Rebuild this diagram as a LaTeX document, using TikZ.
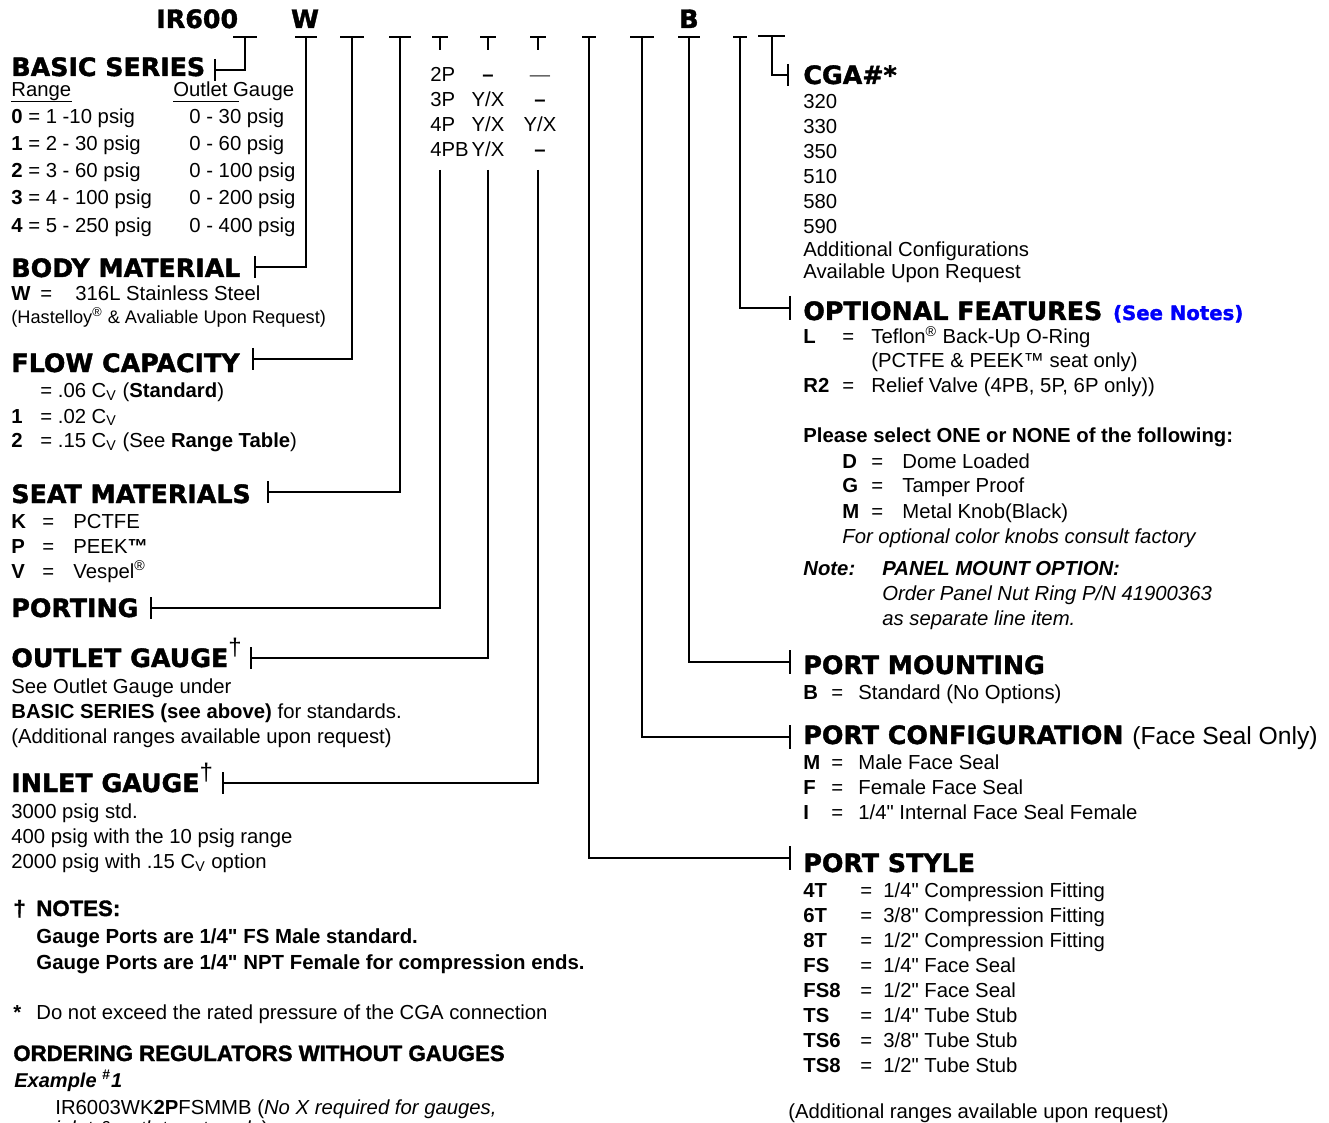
\documentclass[tikz,border=0pt]{standalone}
\usepackage{fontspec}
\setmainfont{Liberation Sans}[Ligatures=TeXOff]
\newfontfamily\headfont{DejaVu Sans Bold}[FakeBold=1.5]
\newfontfamily\titlefont{Liberation Sans Bold}[FakeBold=1.5, Ligatures=TeXOff]
\usepackage{xcolor}
\usepackage{tikz}
\usetikzlibrary{positioning}
\definecolor{seeblue}{RGB}{0,0,250}
\tikzset{
  head-text/.style={anchor=base west, inner sep=0pt,
    font=\headfont\fontsize{12.65}{14}\selectfont},
  blue-text/.style={anchor=base west, inner sep=0pt, text=seeblue,
    font=\headfont\fontsize{9.85}{12}\selectfont},
  body-text/.style={anchor=base west, inner sep=0pt,
    font=\fontsize{10.15}{12}\selectfont},
  code-text/.style={anchor=base west, inner sep=0pt,
    font=\fontsize{10.15}{12}\selectfont\bfseries},
  table-text/.style={anchor=base, inner sep=0pt,
    font=\fontsize{10.15}{12}\selectfont},
  small-text/.style={anchor=base west, inner sep=0pt,
    font=\fontsize{9.1}{11}\selectfont},
  note-text/.style={anchor=base west, inner sep=0pt,
    font=\fontsize{10.2}{12}\selectfont\bfseries},
  title-text/.style={anchor=base west, inner sep=0pt,
    font=\titlefont\fontsize{11.1}{13}\selectfont},
  link/.style={line width=1pt},
  rule/.style={line width=0.5pt}
}
\newcommand{\gaugedag}{{\normalfont\fontsize{12}{12}\selectfont\raisebox{6pt}{†}}}
\begin{document}
\begin{tikzpicture}[x=0.5pt, y=-0.5pt]
\useasboundingbox (0,0) rectangle (1329,1123);

% Code line
\node[head-text] (hIR) at (156,28) {IR600};
\node[head-text, anchor=base] (hW) at (305,28) {W};
\node[head-text, anchor=base] (hB) at (689,28) {B};

% Left column: basic series
\node[head-text] (hSeries) at (11,76) {BASIC SERIES};
\node[body-text] (tRange) at (11,97) {Range};
\node[body-text] (tOutGauge) at (173,97) {Outlet Gauge};
\draw[rule] ([yshift=-2.5pt]tRange.base west) -- ([yshift=-2.5pt]tRange.base east);
\draw[rule] ([yshift=-2.5pt]tOutGauge.base west) -- ++(66,0);
\node[body-text] (tRange0) at (11,124) {\textbf{0} = 1 -10 psig};
\node[body-text] (tRange1) at (11,151) {\textbf{1} = 2 - 30 psig};
\node[body-text] (tRange2) at (11,178) {\textbf{2} = 3 - 60 psig};
\node[body-text] (tRange3) at (11,205) {\textbf{3} = 4 - 100 psig};
\node[body-text] (tRange4) at (11,233) {\textbf{4} = 5 - 250 psig};
\node[body-text] (tGauge0) at (189,124) {0 - 30 psig};
\node[body-text] (tGauge1) at (189,151) {0 - 60 psig};
\node[body-text] (tGauge2) at (189,178) {0 - 100 psig};
\node[body-text] (tGauge3) at (189,205) {0 - 200 psig};
\node[body-text] (tGauge4) at (189,233) {0 - 400 psig};

% Body material
\node[head-text] (hBody) at (11,277) {BODY MATERIAL};
\node[code-text] (cW) at (11,301) {W};
\node[body-text] (eW) at (40,301) {=};
\node[body-text] (vW) at (75,301) {316L Stainless Steel};
\node[small-text] (tHast) at (11,324) {(Hastelloy\textsuperscript{®} \& Avaliable Upon Request)};

% Flow capacity
\node[head-text] (hFlow) at (11,372) {FLOW CAPACITY};
\node[body-text] (vFlow0) at (40,398) {= .06 C\textsubscript{V} (\textbf{Standard})};
\node[code-text] (cFlow1) at (11,423) {1};
\node[body-text] (vFlow1) at (40,423) {= .02 C\textsubscript{V}};
\node[code-text] (cFlow2) at (11,448) {2};
\node[body-text] (vFlow2) at (40,448) {= .15 C\textsubscript{V} (See \textbf{Range Table})};

% Seat materials
\node[head-text] (hSeat) at (11,503) {SEAT MATERIALS};
\node[code-text] (cK) at (11,528) {K};
\node[body-text] (eK) at (42,528) {=};
\node[body-text] (vK) at (73,528) {PCTFE};
\node[code-text] (cP) at (11,553) {P};
\node[body-text] (eP) at (42,553) {=};
\node[body-text] (vP) at (73,553) {PEEK\textbf{™}};
\node[code-text] (cV) at (11,578) {V};
\node[body-text] (eV) at (42,578) {=};
\node[body-text] (vV) at (73,578) {Vespel\textsuperscript{®}};

% Porting and gauges
\node[head-text] (hPort) at (11,617) {PORTING};
\node[head-text] (hOutlet) at (11,667) {OUTLET GAUGE\gaugedag};
\node[body-text] (tOut1) at (11,693) {See Outlet Gauge under};
\node[body-text] (tOut2) at (11,718) {\textbf{BASIC SERIES (see above)} for standards.};
\node[body-text] (tOut3) at (11,743) {(Additional ranges available upon request)};
\node[head-text] (hInlet) at (11,792) {INLET GAUGE\gaugedag};
\node[body-text] (tIn1) at (11,818) {3000 psig std.};
\node[body-text] (tIn2) at (11,843) {400 psig with the 10 psig range};
\node[body-text] (tIn3) at (11,868) {2000 psig with .15 C\textsubscript{V} option};

% Notes
\node[title-text] (tDagger) at (13,916) {†};
\node[title-text] (hNotes) at (36,916) {NOTES:};
\node[note-text] (tNote1) at (36,943) {Gauge Ports are 1/4" FS Male standard.};
\node[note-text] (tNote2) at (36,969) {Gauge Ports are 1/4" NPT Female for compression ends.};
\node[code-text] (tStar) at (13,1019) {*};
\node[body-text] (tStarNote) at (36,1019) {Do not exceed the rated pressure of the CGA connection};
\node[title-text] (hOrder) at (13,1061) {ORDERING REGULATORS WITHOUT GAUGES};
\node[note-text, font=\fontsize{10}{12}\selectfont\bfseries\itshape] (tExample) at (14,1087) {Example \textsuperscript{\#}1};
\node[body-text] (tExample1) at (55,1114) {IR6003WK\textbf{2P}FSMMB (\textit{No X required for gauges,}};
\node[body-text] (tExample2) at (55,1135) {\textit{inlet \& outlet ports only})};

% Port table
\node[body-text] (p2) at (430,82) {2P};
\node[body-text] (p3) at (430,107) {3P};
\node[body-text] (p4) at (430,132) {4P};
\node[body-text] (p4b) at (430,157) {4PB};
\node[table-text] (o2) at (488,82) {\textbf{–}};
\node[table-text] (o3) at (488,107) {Y/X};
\node[table-text] (o4) at (488,132) {Y/X};
\node[table-text] (o4b) at (488,157) {Y/X};
\node[table-text] (i2) at (540,82) {\textcolor{black!70}{—}};
\node[table-text] (i3) at (540,107) {\textbf{–}};
\node[table-text] (i4) at (540,132) {Y/X};
\node[table-text] (i4b) at (540,157) {\textbf{–}};

% Right column: CGA
\node[head-text] (hCga) at (803,84) {CGA\#*};
\node[body-text] (g320) at (803,109) {320};
\node[body-text] (g330) at (803,134) {330};
\node[body-text] (g350) at (803,159) {350};
\node[body-text] (g510) at (803,184) {510};
\node[body-text] (g580) at (803,209) {580};
\node[body-text] (g590) at (803,234) {590};
\node[body-text] (gAdd1) at (803,257) {Additional Configurations};
\node[body-text] (gAdd2) at (803,279) {Available Upon Request};

% Optional features
\node[head-text] (hOption) at (803,320) {OPTIONAL FEATURES};
\node[blue-text, base right=5pt of hOption] (tSee) {(See Notes)};
\node[code-text] (cL) at (803,344) {L};
\node[body-text] (eL) at (842,344) {=};
\node[body-text] (vL) at (871,344) {Teflon\textsuperscript{®} Back-Up O-Ring};
\node[body-text] (vL2) at (871,368) {(PCTFE \& PEEK™ seat only)};
\node[code-text] (cR2) at (803,393) {R2};
\node[body-text] (eR2) at (842,393) {=};
\node[body-text] (vR2) at (871,393) {Relief Valve (4PB, 5P, 6P only))};
\node[code-text] (tSelect) at (803,443) {Please select ONE or NONE of the following:};
\node[code-text] (cD) at (842,468) {D};
\node[body-text] (eD) at (871,468) {=};
\node[body-text] (vD) at (902,468) {Dome Loaded};
\node[code-text] (cG) at (842,493) {G};
\node[body-text] (eG) at (871,493) {=};
\node[body-text] (vG) at (902,493) {Tamper Proof};
\node[code-text] (cM) at (842,518) {M};
\node[body-text] (eM) at (871,518) {=};
\node[body-text] (vM) at (902,518) {Metal Knob(Black)};
\node[body-text, font=\fontsize{10.15}{12}\selectfont\itshape] (tKnob) at (842,543) {For optional color knobs consult factory};
\node[code-text, font=\fontsize{10.15}{12}\selectfont\bfseries\itshape] (tNote) at (803,575) {Note:};
\node[code-text, font=\fontsize{10.15}{12}\selectfont\bfseries\itshape] (tPanel) at (882,575) {PANEL MOUNT OPTION:};
\node[body-text, font=\fontsize{10.15}{12}\selectfont\itshape] (tPanel1) at (882,600) {Order Panel Nut Ring P/N 41900363};
\node[body-text, font=\fontsize{10.15}{12}\selectfont\itshape] (tPanel2) at (882,625) {as separate line item.};

% Port mounting and configuration
\node[head-text] (hMount) at (803,674) {PORT MOUNTING};
\node[code-text] (cB) at (803,699) {B};
\node[body-text] (eB) at (831,699) {=};
\node[body-text] (vB) at (858,699) {Standard (No Options)};
\node[head-text] (hConfig) at (803,744) {PORT CONFIGURATION};
\node[body-text, font=\fontsize{12.35}{14}\selectfont, base right=4pt of hConfig] (tFace) {(Face Seal Only)};
\node[code-text] (cMF) at (803,769) {M};
\node[body-text] (eMF) at (831,769) {=};
\node[body-text] (vMF) at (858,769) {Male Face Seal};
\node[code-text] (cFF) at (803,794) {F};
\node[body-text] (eFF) at (831,794) {=};
\node[body-text] (vFF) at (858,794) {Female Face Seal};
\node[code-text] (cIF) at (803,819) {I};
\node[body-text] (eIF) at (831,819) {=};
\node[body-text] (vIF) at (858,819) {1/4" Internal Face Seal Female};

% Port style
\node[head-text] (hStyle) at (803,872) {PORT STYLE};
\node[code-text] (c4T) at (803,897) {4T};
\node[body-text] (e4T) at (860,897) {=};
\node[body-text] (v4T) at (883,897) {1/4" Compression Fitting};
\node[code-text] (c6T) at (803,922) {6T};
\node[body-text] (e6T) at (860,922) {=};
\node[body-text] (v6T) at (883,922) {3/8" Compression Fitting};
\node[code-text] (c8T) at (803,947) {8T};
\node[body-text] (e8T) at (860,947) {=};
\node[body-text] (v8T) at (883,947) {1/2" Compression Fitting};
\node[code-text] (cFS) at (803,972) {FS};
\node[body-text] (eFS) at (860,972) {=};
\node[body-text] (vFS) at (883,972) {1/4" Face Seal};
\node[code-text] (cFS8) at (803,997) {FS8};
\node[body-text] (eFS8) at (860,997) {=};
\node[body-text] (vFS8) at (883,997) {1/2" Face Seal};
\node[code-text] (cTS) at (803,1022) {TS};
\node[body-text] (eTS) at (860,1022) {=};
\node[body-text] (vTS) at (883,1022) {1/4" Tube Stub};
\node[code-text] (cTS6) at (803,1047) {TS6};
\node[body-text] (eTS6) at (860,1047) {=};
\node[body-text] (vTS6) at (883,1047) {3/8" Tube Stub};
\node[code-text] (cTS8) at (803,1072) {TS8};
\node[body-text] (eTS8) at (860,1072) {=};
\node[body-text] (vTS8) at (883,1072) {1/2" Tube Stub};
\node[body-text] (tStyleAdd) at (788,1118) {(Additional ranges available upon request)};

% Column tops under the code
\coordinate (sSeries) at (245,37);
\coordinate (sBody) at (306,37);
\coordinate (sFlow) at (352,37);
\coordinate (sSeat) at (400,37);
\coordinate (sPort) at (440,37);
\coordinate (sOutlet) at (488,37);
\coordinate (sInlet) at (538,37);
\coordinate (sStyle) at (589,37);
\coordinate (sConfig) at (642,37);
\coordinate (sMount) at (689,37);
\coordinate (sOption) at (740,37);
\coordinate (sCga) at (772,36);
% stems broken by the port table
\coordinate (uPort) at (440,50);
\coordinate (uOutlet) at (488,50);
\coordinate (uInlet) at (538,50);
\coordinate (dPort) at (440,170);
\coordinate (dOutlet) at (488,170);
\coordinate (dInlet) at (538,170);
% ticks beside the headings
\coordinate (kSeries) at (215,70);
\coordinate (kBody) at (255,267);
\coordinate (kFlow) at (253,359);
\coordinate (kSeat) at (268,492);
\coordinate (kPort) at (151,608);
\coordinate (kOutlet) at (251,658);
\coordinate (kInlet) at (223,783);
\coordinate (kCga) at (788,75);
\coordinate (kOption) at (790,308);
\coordinate (kMount) at (790,662);
\coordinate (kConfig) at (790,737);
\coordinate (kStyle) at (790,858);

% bars
\draw[link] (sSeries) +(-12,0) -- +(12,0);
\draw[link] (sBody) +(-11,0) -- +(11,0);
\draw[link] (sFlow) +(-12,0) -- +(12,0);
\draw[link] (sSeat) +(-11,0) -- +(11,0);
\draw[link] (sPort) +(-8,0) -- +(8,0);
\draw[link] (sOutlet) +(-8,0) -- +(8,0);
\draw[link] (sInlet) +(-8,0) -- +(8,0);
\draw[link] (sStyle) +(-7,0) -- +(7,0);
\draw[link] (sConfig) +(-12,0) -- +(12,0);
\draw[link] (sMount) +(-11,0) -- +(11,0);
\draw[link] (sOption) +(-7,0) -- +(7,0);
\draw[link] (sCga) +(-14,0) -- +(13,0);

% connectors
\draw[link] (sSeries) |- (kSeries);
\draw[link] (sBody) |- (kBody);
\draw[link] (sFlow) |- (kFlow);
\draw[link] (sSeat) |- (kSeat);
\draw[link] (sPort) -- (uPort);
\draw[link] (dPort) |- (kPort);
\draw[link] (sOutlet) -- (uOutlet);
\draw[link] (dOutlet) |- (kOutlet);
\draw[link] (sInlet) -- (uInlet);
\draw[link] (dInlet) |- (kInlet);
\draw[link] (sStyle) |- (kStyle);
\draw[link] (sConfig) |- (kConfig);
\draw[link] (sMount) |- (kMount);
\draw[link] (sOption) |- (kOption);
\draw[link] (sCga) |- (kCga);

% ticks
\draw[link] (kSeries) +(0,-11) -- +(0,11);
\draw[link] (kBody) +(0,-11) -- +(0,11);
\draw[link] (kFlow) +(0,-11) -- +(0,11);
\draw[link] (kSeat) +(0,-11) -- +(0,11);
\draw[link] (kPort) +(0,-11) -- +(0,11);
\draw[link] (kOutlet) +(0,-11) -- +(0,11);
\draw[link] (kInlet) +(0,-11) -- +(0,11);
\draw[link] (kCga) +(0,-11) -- +(0,11);
\draw[link] (kOption) +(0,-12) -- +(0,12);
\draw[link] (kMount) +(0,-12) -- +(0,12);
\draw[link] (kConfig) +(0,-12) -- +(0,12);
\draw[link] (kStyle) +(0,-12) -- +(0,12);
\end{tikzpicture}
\end{document}
